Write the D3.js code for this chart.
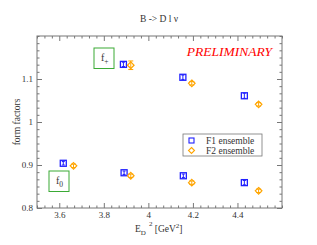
<!DOCTYPE html>
<html>
<head>
<meta charset="utf-8">
<script src="https://cdn.jsdelivr.net/npm/d3@7"></script>
<style>
  body { margin: 0; background: #fff; }
  svg text { font-family: "Liberation Serif", "DejaVu Serif", serif; fill: #333; }
  .axis path, .axis line { stroke: #777; }
</style>
</head>
<body>
<div id="chart"></div>
<script>
// x = E_D^2, y = form factor value, e = error
const f1Ensemble = [
  { x: 3.618, y: 0.904, e: 0.004 },
  { x: 3.891, y: 0.882, e: 0.004 },
  { x: 4.157, y: 0.875, e: 0.004 },
  { x: 4.431, y: 0.859, e: 0.005 },
  { x: 3.888, y: 1.134, e: 0.005 },
  { x: 4.155, y: 1.104, e: 0.005 },
  { x: 4.431, y: 1.061, e: 0.006 }
]
const f2Ensemble = [
  { x: 3.664, y: 0.898, e: 0.004 },
  { x: 3.921, y: 0.875, e: 0.004 },
  { x: 4.195, y: 0.859, e: 0.004 },
  { x: 4.495, y: 0.840, e: 0.004 },
  { x: 3.921, y: 1.132, e: 0.010 },
  { x: 4.195, y: 1.090, e: 0.004 },
  { x: 4.495, y: 1.041, e: 0.004 }
]
const xMajor = [3.6, 3.8, 4.0, 4.2, 4.4]
const yMajor = [0.8, 0.9, 1.0, 1.1]
const legendItems = ["F1 ensemble", "F2 ensemble"]

const W = 317, H = 245
const margin = { top: 36, right: 35, bottom: 37, left: 37 }

const svg = d3.select("#chart").append("svg")
  .attr("width", W).attr("height", H)

const x = d3.scaleLinear().domain([3.5, 4.6]).range([margin.left, W - margin.right])
const y = d3.scaleLinear().domain([0.8, 1.2]).range([H - margin.bottom, margin.top])

const xMinor = d3.range(3.5, 4.6001, 0.2 / 6).filter(v => !xMajor.some(m => Math.abs(m - v) < 1e-6))
const yMinor = d3.range(0.8, 1.2001, 0.1 / 6).filter(v => !yMajor.some(m => Math.abs(m - v) < 1e-6))

const fmt = d => (Math.abs(d - 1) < 1e-9 || Math.abs(d - 4) < 1e-9) ? d3.format("d")(d) : d3.format(".1f")(d)

const plotBottom = y.range()[0], plotTop = y.range()[1]
const plotLeft = x.range()[0], plotRight = x.range()[1]

// frame
svg.append("rect")
  .attr("x", plotLeft).attr("y", plotTop)
  .attr("width", plotRight - plotLeft)
  .attr("height", plotBottom - plotTop)
  .attr("fill", "none").attr("stroke", "#777")

function addAxis(axis, tx, ty, values, size, labels) {
  const g = svg.append("g").attr("class", "axis")
    .attr("transform", `translate(${tx},${ty})`)
    .call(axis.tickValues(values).tickSize(-size).tickPadding(4)
      .tickFormat(labels ? fmt : ""))
  g.select(".domain").remove()
  g.selectAll("text").style("font-size", "9px").attr("fill", "#333")
  return g
}

addAxis(d3.axisBottom(x), 0, plotBottom, xMajor, 5, true)
addAxis(d3.axisBottom(x), 0, plotBottom, xMinor, 2.5, false)
addAxis(d3.axisTop(x), 0, plotTop, xMajor, 5, false)
addAxis(d3.axisTop(x), 0, plotTop, xMinor, 2.5, false)
addAxis(d3.axisLeft(y), plotLeft, 0, yMajor, 5, true)
addAxis(d3.axisLeft(y), plotLeft, 0, yMinor, 2.5, false)
addAxis(d3.axisRight(y), plotRight, 0, yMajor, 5, false)
addAxis(d3.axisRight(y), plotRight, 0, yMinor, 2.5, false)

// title
svg.append("text")
  .attr("x", 159).attr("y", 22)
  .attr("text-anchor", "middle")
  .style("font-size", "9.5px")
  .text("B -> D l ν")

// axis labels
svg.append("text")
  .attr("transform", `translate(20,${(plotTop + plotBottom) / 2}) rotate(-90)`)
  .attr("text-anchor", "middle")
  .style("font-size", "9.5px")
  .text("form factors")

const xl = svg.append("text")
  .attr("x", 135).attr("y", 232)
  .style("font-size", "9.5px")
xl.append("tspan").text("E")
xl.append("tspan").attr("dy", 2.5).style("font-size", "7px").text("D")
xl.append("tspan").attr("dy", -9).attr("dx", 3).style("font-size", "7px").text("2")
xl.append("tspan").attr("dy", 6.5).text(" [GeV")
xl.append("tspan").attr("dy", -4).style("font-size", "7px").text("2")
xl.append("tspan").attr("dy", 4).text("]")

// PRELIMINARY
svg.append("text")
  .attr("x", 272).attr("y", 56)
  .attr("text-anchor", "end")
  .style("font-size", "13.5px").style("font-style", "italic")
  .style("fill", "#ff0000")
  .text("PRELIMINARY")

// f+ / f0 boxes
const boxes = [
  { x: 94, y: 48, sub: "+" },
  { x: 49, y: 171, sub: "0" }
]
boxes.forEach(b => {
  svg.append("rect")
    .attr("x", b.x).attr("y", b.y).attr("width", 20).attr("height", 20.5)
    .attr("fill", "none").attr("stroke", "#3aaa35").attr("stroke-width", 1)
  const t = svg.append("text")
    .attr("x", b.x + 7).attr("y", b.y + 13)
    .style("font-size", "10px")
  t.append("tspan").text("f")
  t.append("tspan").attr("dy", 3).style("font-size", "7.5px").text(b.sub)
})

// data
const blue = "#2020ff", orange = "#ffa500"

function errorBars(g, data, color, cap) {
  g.selectAll(".eb").data(data).enter().append("path")
    .attr("fill", "none").attr("stroke", color).attr("stroke-width", 1)
    .attr("d", d => {
      const cx = x(d.x), y0 = y(d.y - d.e), y1 = y(d.y + d.e)
      return `M${cx},${y0}V${y1}M${cx - cap},${y0}H${cx + cap}M${cx - cap},${y1}H${cx + cap}`
    })
}

const gBlue = svg.append("g")
errorBars(gBlue, f1Ensemble, blue, 1.5)
gBlue.selectAll("rect").data(f1Ensemble).enter().append("rect")
  .attr("x", d => x(d.x) - 3).attr("y", d => y(d.y) - 3)
  .attr("width", 6).attr("height", 6)
  .attr("fill", "none").attr("stroke", blue).attr("stroke-width", 1.3)

const gOrange = svg.append("g")
errorBars(gOrange, f2Ensemble, orange, 2.5)
gOrange.selectAll(".dm").data(f2Ensemble).enter().append("path")
  .attr("fill", "none").attr("stroke", orange).attr("stroke-width", 1.2)
  .attr("d", d => {
    const cx = x(d.x), cy = y(d.y), r = 3.3
    return `M${cx},${cy - r}L${cx + r},${cy}L${cx},${cy + r}L${cx - r},${cy}Z`
  })

// legend
const lg = svg.append("g")
lg.append("rect")
  .attr("x", 183).attr("y", 134).attr("width", 79).attr("height", 22)
  .attr("fill", "#fff").attr("stroke", "#777").attr("stroke-width", 0.8)
legendItems.forEach((name, i) => {
  const cy = 140.5 + i * 10
  if (i === 0) {
    lg.append("rect").attr("x", 189).attr("y", cy - 2.5).attr("width", 5).attr("height", 5)
      .attr("fill", "none").attr("stroke", blue).attr("stroke-width", 1.1)
  } else {
    lg.append("path")
      .attr("d", `M191.5,${cy - 3}L194.5,${cy}L191.5,${cy + 3}L188.5,${cy}Z`)
      .attr("fill", "none").attr("stroke", orange).attr("stroke-width", 1.1)
  }
  lg.append("text").attr("x", 206).attr("y", cy + 3.2)
    .style("font-size", "9.5px").text(name)
})
</script>
</body>
</html>
